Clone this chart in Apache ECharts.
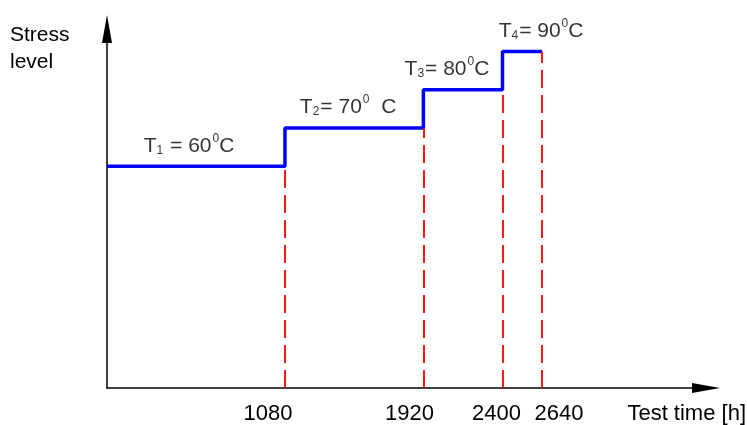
<!DOCTYPE html>
<html>
<head>
<meta charset="utf-8">
<script src="https://cdn.jsdelivr.net/npm/echarts@6/dist/echarts.min.js"></script>
<style>html,body{margin:0;padding:0;background:#fff;}#c{width:747px;height:425px;}</style>
</head>
<body>
<div id="c"></div>
<script>
// ---- data ----
var stepTimes = [0, 1080, 1920, 2400, 2640];       // h
var stressLevels = [60, 70, 80, 90, 90];            // temperature level (°C)
var markTimes = [1080, 1920, 2400, 2640];           // dashed guide lines / tick labels
var markTops = [60, 70, 80, 90];                    // level where each guide line ends
var tickLabels = ['1080', '1920', '2400', '2640'];
var stepNames = ['1', '2', '3', '4'];
var stepTemps = ['60', '70', '80', '90'];
var stepLabelX = [498, 1463, 2063, 2634];           // where each temperature label sits
var stepLabelLevel = [60, 70, 80, 90];

var FONT = "'Liberation Sans', Arial, sans-serif";
var labelShift = {'1080': [0, 34], '1920': [0, 28], '2400': [0, 12], '2640': [34, 0]};

var stepData = stepTimes.map(function (t, i) { return [t, stressLevels[i]]; });
var guideLines = markTimes.map(function (t, i) {
  return [{coord: [t, 2]}, {coord: [t, markTops[i]]}];
});
var labelData = stepLabelX.map(function (x, i) {
  return {value: [x, stepLabelLevel[i]], idx: i};
});

var chart = echarts.init(document.getElementById('c'));
chart.setOption({
  backgroundColor: '#ffffff',
  animation: false,
  grid: {left: 107, right: 41, top: 29, bottom: 36},
  xAxis: {
    type: 'value', min: 0, max: 3635,
    splitLine: {show: false},
    axisTick: {show: false},
    axisLine: {show: true, symbol: ['none', 'triangle'], symbolSize: [10, 28],
      lineStyle: {color: '#000', width: 1.5}},
    axisLabel: {
      customValues: markTimes,
      margin: 15,
      color: '#000', fontSize: 22, fontFamily: FONT,
      formatter: function (v) {
        var s = String(v);
        return '{k' + s + '|' + s + '}';
      },
      rich: (function () {
        var r = {};
        tickLabels.forEach(function (s) {
          var sh = labelShift[s];
          r['k' + s] = {fontSize: 22, fontFamily: FONT, color: '#000', padding: [0, sh[1], 0, sh[0]]};
        });
        return r;
      })()
    }
  },
  yAxis: {
    type: 'value', min: 2, max: 95.9,
    splitLine: {show: false},
    axisTick: {show: false},
    axisLabel: {show: false},
    axisLine: {show: true, symbol: ['none', 'triangle'], symbolSize: [10, 28],
      lineStyle: {color: '#000', width: 1.5}}
  },
  graphic: [
    {type: 'text', left: 10, top: 22, style: {text: 'Stress\nlevel', font: '21px ' + FONT, fill: '#000', align: 'center', lineHeight: 27, width: 62}},
    {type: 'text', right: 1, top: 403, style: {text: 'Test time [h]', font: '22px ' + FONT, fill: '#000'}}
  ],
  series: [
    {
      type: 'line', step: 'end', data: stepData, showSymbol: false, z: 3,
      lineStyle: {color: '#0000ff', width: 3.5},
      markLine: {
        silent: true, symbol: ['none', 'none'], label: {show: false},
        lineStyle: {color: '#ff0000', width: 1.8, type: [18, 7]},
        data: guideLines
      }
    },
    {
      type: 'scatter', data: labelData, symbolSize: 0, silent: true,
      label: {
        show: true, position: 'top', distance: 10, color: '#000',
        fontSize: 21, fontFamily: FONT,
        formatter: function (p) {
          var i = p.data.idx;
          var sp = i === 1 ? '  ' : '';
          var eq = i === 0 ? ' = ' : '= ';
          return '{m|T}{sub|' + stepNames[i] + '}{m|' + eq + stepTemps[i] + '}{sup|0}{m|' + sp + 'C}';
        },
        rich: {
          m: {fontSize: 21, fontFamily: FONT, color: '#000', lineHeight: 24, verticalAlign: 'bottom'},
          sub: {fontSize: 12, fontFamily: FONT, color: '#000', lineHeight: 10, verticalAlign: 'bottom', padding: [0, 1, 0, 0]},
          sup: {fontSize: 12, fontFamily: FONT, color: '#000', lineHeight: 12, verticalAlign: 'top', padding: [0, 0, 0, 1]}
        }
      }
    }
  ]
});
</script>
</body>
</html>
